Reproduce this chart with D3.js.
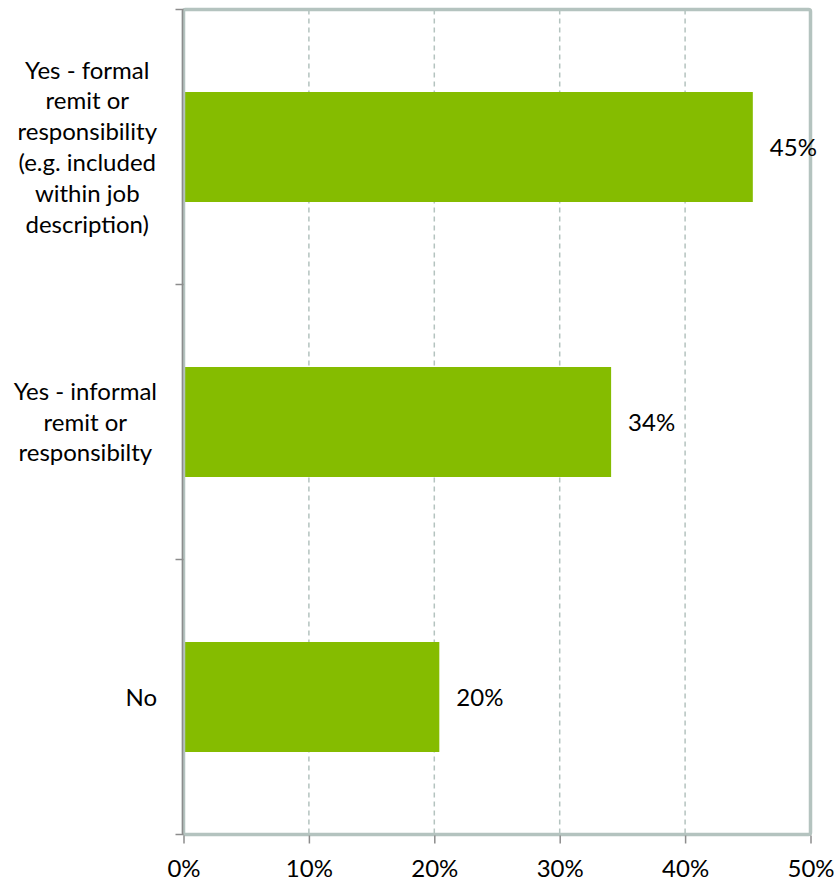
<!DOCTYPE html>
<html>
<head>
<meta charset="utf-8">
<script src="https://cdn.jsdelivr.net/npm/d3@7"></script>
<style>
  html, body { margin: 0; padding: 0; background: #ffffff; }
  svg { display: block; }
  text { font-family: Lato, "Open Sans", sans-serif; fill: #000; }
</style>
</head>
<body>
<svg id="chart" width="834" height="882"></svg>
<script>
// ---- data ----
const categories = [
  "Yes - formal remit or responsibility (e.g. included within job description)",
  "Yes - informal remit or responsibilty",
  "No"
];
const categoryLines = [
  ["Yes - formal", "remit or", "responsibility", "(e.g. included", "within job", "description)"],
  ["Yes - informal", "remit or", "responsibilty"],
  ["No"]
];
const values = [45.4, 34.1, 20.4];
const xTicks = [0, 10, 20, 30, 40, 50];

// ---- layout ----
const plotL = 183.5, plotR = 810.5, plotT = 9.5, plotB = 834.5;
const fontSize = 24;
const lineH = 30.8;
const barColor = "#85bc00";
const borderColor = "#b4c3bf";
const axisColor = "#8c8c8c";

const svg = d3.select("#chart");

const x = d3.scaleLinear().domain([0, 50]).range([plotL, plotR]);
const y = d3.scaleBand().domain(categories).range([plotT, plotB])
  .paddingInner(0.6).paddingOuter(0.3);
const yBand = d3.scaleBand().domain(categories).range([plotT, plotB]).padding(0);

// gridlines
svg.append("g").selectAll("line")
  .data(xTicks.filter(t => t > 0 && t < 50))
  .join("line")
  .attr("x1", d => x(d)).attr("x2", d => x(d))
  .attr("y1", plotT).attr("y2", plotB)
  .attr("stroke", borderColor)
  .attr("stroke-width", 1.5)
  .attr("stroke-dasharray", "5,4");

// bars
svg.append("g").selectAll("rect")
  .data(values)
  .join("rect")
  .attr("x", x(0))
  .attr("y", (d, i) => y(categories[i]))
  .attr("width", d => x(d) - x(0))
  .attr("height", y.bandwidth())
  .attr("fill", barColor);

// plot border
svg.append("rect")
  .attr("x", plotL).attr("y", plotT)
  .attr("width", plotR - plotL).attr("height", plotB - plotT)
  .attr("rx", 2)
  .attr("fill", "none")
  .attr("stroke", borderColor)
  .attr("stroke-width", 3.5);

// y axis line (dark) over border
svg.append("line")
  .attr("x1", plotL - 1).attr("x2", plotL - 1)
  .attr("y1", plotT).attr("y2", plotB)
  .attr("stroke", axisColor).attr("stroke-width", 1.5);

// y ticks at band boundaries
const yTickPos = categories.map(c => yBand(c)).concat([plotB]);
svg.append("g").selectAll("line")
  .data(yTickPos)
  .join("line")
  .attr("x1", plotL - 8).attr("x2", plotL)
  .attr("y1", d => d).attr("y2", d => d)
  .attr("stroke", axisColor).attr("stroke-width", 1.5);

// x axis
const xAxis = d3.axisBottom(x)
  .tickValues(xTicks)
  .tickSize(8)
  .tickPadding(16)
  .tickFormat(d => d + "%");
const gx = svg.append("g")
  .attr("transform", `translate(0,${plotB + 1})`)
  .call(xAxis);
gx.select(".domain").remove();
gx.selectAll(".tick line").attr("stroke", axisColor).attr("stroke-width", 1.5);
gx.selectAll(".tick text")
  .attr("font-size", fontSize)
  .attr("font-family", "Lato, 'Open Sans', sans-serif")
  .attr("fill", "#000");

// category labels
const labelRight = 157;
categories.forEach((c, i) => {
  const lines = categoryLines[i];
  const g = svg.append("g");
  const texts = g.selectAll("text")
    .data(lines)
    .join("text")
    .attr("font-size", fontSize)
    .attr("text-anchor", "middle")
    .text(d => d);
  let maxW = 0;
  texts.each(function () { maxW = Math.max(maxW, this.getComputedTextLength()); });
  const cx = labelRight - maxW / 2;
  const cy = yBand(c) + yBand.bandwidth() / 2;
  const n = lines.length;
  texts.attr("x", cx)
    .attr("y", (d, j) => cy + (j - (n - 1) / 2) * lineH + 8.5);
});

// value labels
svg.append("g").selectAll("text")
  .data(values)
  .join("text")
  .attr("font-size", fontSize)
  .attr("x", d => x(d) + 17)
  .attr("y", (d, i) => y(categories[i]) + y.bandwidth() / 2 + 9)
  .text(d => d3.format(".0f")(d) + "%");
</script>
</body>
</html>
